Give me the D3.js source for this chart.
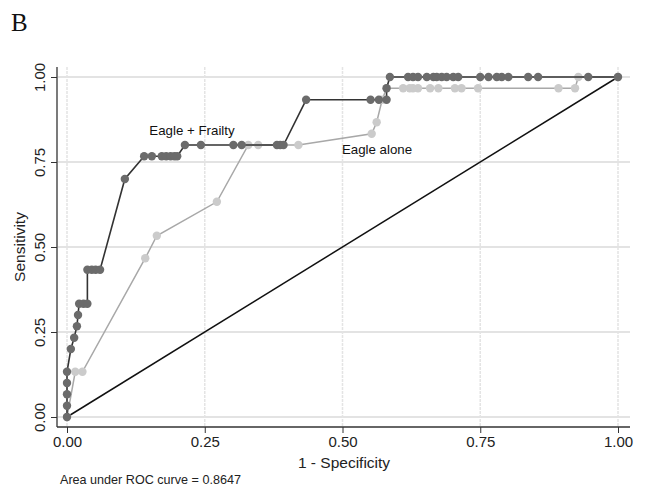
<!DOCTYPE html>
<html>
<head>
<meta charset="utf-8">
<script src="https://cdn.jsdelivr.net/npm/d3@7"></script>
<style>
body { margin: 0; background: #fff; }
</style>
</head>
<body>
<svg id="chart" width="645" height="488"></svg>
<script>
// ROC points: 1 - specificity (x) and sensitivity (y)
const frailtyX = [0, 0, 0, 0, 0, 0.007, 0.013, 0.018, 0.02, 0.022, 0.03, 0.037, 0.037, 0.045, 0.052, 0.06,
  0.105, 0.14, 0.154, 0.172, 0.18, 0.188, 0.195, 0.2, 0.214, 0.243, 0.302, 0.317, 0.381, 0.387, 0.393,
  0.434, 0.551, 0.566, 0.58, 0.58, 0.586, 0.619, 0.628, 0.637, 0.653, 0.665, 0.671, 0.68, 0.689, 0.701, 0.71,
  0.75, 0.765, 0.78, 0.789, 0.801, 0.837, 0.855, 0.946, 1];
const frailtyY = [0, 0.033, 0.067, 0.1, 0.133, 0.2, 0.233, 0.267, 0.3, 0.333, 0.333, 0.333, 0.433, 0.433, 0.433, 0.433,
  0.7, 0.767, 0.767, 0.767, 0.767, 0.767, 0.767, 0.767, 0.8, 0.8, 0.8, 0.8, 0.8, 0.8, 0.8,
  0.933, 0.933, 0.933, 0.933, 0.967, 1, 1, 1, 1, 1, 1, 1, 1, 1, 1, 1,
  1, 1, 1, 1, 1, 1, 1, 1, 1];

const aloneX = [0, 0.015, 0.028, 0.142, 0.163, 0.272, 0.329, 0.347, 0.42, 0.553, 0.562, 0.572, 0.58,
  0.61, 0.622, 0.628, 0.637, 0.659, 0.674, 0.704, 0.716, 0.746, 0.892, 0.922, 0.928, 1];
const aloneY = [0, 0.133, 0.133, 0.467, 0.533, 0.633, 0.8, 0.8, 0.8, 0.833, 0.867, 0.933, 0.967,
  0.967, 0.967, 0.967, 0.967, 0.967, 0.967, 0.967, 0.967, 0.967, 0.967, 0.967, 1, 1];

const ticks = [0, 0.25, 0.5, 0.75, 1];
const tickLabels = ["0.00", "0.25", "0.50", "0.75", "1.00"];

const sans = "Liberation Sans, Arial, sans-serif";
const svg = d3.select("#chart");
const x = d3.scaleLinear().domain([0, 1]).range([67, 618]);
const y = d3.scaleLinear().domain([0, 1]).range([417, 77]);

// grid
svg.append("g").selectAll("line").data(ticks).enter().append("line")
  .attr("x1", 58).attr("x2", 630)
  .attr("y1", d => y(d)).attr("y2", d => y(d))
  .attr("stroke", "#dadada").attr("stroke-width", 1.5);
svg.append("g").selectAll("line").data(ticks).enter().append("line")
  .attr("x1", d => x(d)).attr("x2", d => x(d))
  .attr("y1", 67).attr("y2", 426)
  .attr("stroke", "#e4e4e4").attr("stroke-width", 1.5)
  .attr("stroke-dasharray", "3,1");

// axes
const xAxis = d3.axisBottom(x).tickValues(ticks).tickFormat((d, i) => tickLabels[i]).tickSize(6).tickPadding(3);
const gx = svg.append("g").attr("transform", "translate(0,427)").call(xAxis);
gx.select(".domain").attr("d", "M57,0H630").attr("stroke", "#333").attr("stroke-width", 1.3);
gx.selectAll(".tick line").attr("stroke", "#333");
gx.selectAll("text").style("font-size", "15px").attr("fill", "#222")
  .style("font-family", sans);

const yAxis = d3.axisLeft(y).tickValues(ticks).tickFormat((d, i) => tickLabels[i]).tickSize(6).tickPadding(3);
const gy = svg.append("g").attr("transform", "translate(57,0)").call(yAxis);
gy.select(".domain").attr("d", "M0,67V427").attr("stroke", "#333").attr("stroke-width", 1.3);
gy.selectAll(".tick line").attr("stroke", "#333");
gy.selectAll("text").style("font-size", "15px").attr("fill", "#222")
  .style("font-family", sans)
  .attr("x", 0).attr("dy", 0)
  .attr("text-anchor", "middle")
  .attr("transform", "translate(-12,0) rotate(-90)");

// diagonal reference
svg.append("line")
  .attr("x1", x(0)).attr("y1", y(0)).attr("x2", x(1)).attr("y2", y(1))
  .attr("stroke", "#111").attr("stroke-width", 1.5);

const line = d3.line().x(d => x(d[0])).y(d => y(d[1]));
const alone = aloneX.map((v, i) => [v, aloneY[i]]);
const frailty = frailtyX.map((v, i) => [v, frailtyY[i]]);

svg.append("path").datum(alone).attr("d", line)
  .attr("fill", "none").attr("stroke", "#a8a8a8").attr("stroke-width", 1.5);
svg.append("g").selectAll("circle").data(alone).enter().append("circle")
  .attr("cx", d => x(d[0])).attr("cy", d => y(d[1])).attr("r", 4.2)
  .attr("fill", "#cbcbcb");

svg.append("path").datum(frailty).attr("d", line)
  .attr("fill", "none").attr("stroke", "#333").attr("stroke-width", 1.6);
svg.append("g").selectAll("circle").data(frailty).enter().append("circle")
  .attr("cx", d => x(d[0])).attr("cy", d => y(d[1])).attr("r", 4.2)
  .attr("fill", "#6b6b6b");

// labels
function label(tx, ty, size, str, anchor) {
  return svg.append("text").attr("x", tx).attr("y", ty)
    .attr("text-anchor", anchor || "middle")
    .style("font-family", sans).style("font-size", size + "px")
    .attr("fill", "#111").text(str);
}
label(192, 135, 13.3, "Eagle + Frailty");
label(377, 154, 13.3, "Eagle alone");
label(0, 0, 15.5, "Sensitivity").attr("fill", "#222")
  .attr("transform", "translate(25,247) rotate(-90)");
label(344, 468, 15.5, "1 - Specificity").attr("fill", "#222");
label(60, 484, 12.6, "Area under ROC curve = 0.8647", "start").attr("fill", "#222");
svg.append("text").attr("x", 11).attr("y", 31)
  .style("font-family", "Liberation Serif, Times New Roman, serif")
  .style("font-size", "25px").attr("fill", "#111").text("B");
</script>
</body>
</html>
